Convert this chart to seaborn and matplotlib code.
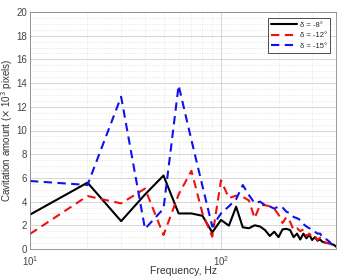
#!/usr/bin/env python3
"""
Cavitation spectrum plot
Cavitation amount vs frequency for three incidence angles (log x-axis).
"""

import numpy as np
import pandas as pd
import matplotlib
matplotlib.use("Agg")
import matplotlib.pyplot as plt
import matplotlib.ticker as mticker
import seaborn as sns

# Frequency bins (Hz)
freq = list(range(10, 410, 10))

# Cavitation amount (x 10^3 pixels)
amount_8 = [2.9, 5.6, 2.35, 4.6, 6.2, 3.0, 3.0, 2.8, 1.4, 2.45,
            1.97, 3.57, 1.83, 1.75, 2.0, 1.9, 1.6, 1.1, 1.46, 1.0,
            1.66, 1.7, 1.6, 1.0, 1.3, 0.8, 1.3, 0.9, 1.2, 0.76,
            1.0, 0.7, 0.8, 0.6, 0.55, 0.5, 0.5, 0.4, 0.35, 0.2]
amount_12 = [1.27, 4.47, 3.85, 5.1, 1.18, 4.6, 6.6, 3.0, 1.04, 5.8,
             4.3, 4.5, 4.4, 4.1, 2.6, 3.7, 3.7, 3.6, 3.4, 2.9,
             2.2, 2.7, 2.3, 1.6, 1.75, 1.5, 1.66, 1.1, 1.3, 1.0,
             1.1, 0.76, 0.96, 0.6, 0.55, 0.5, 0.45, 0.4, 0.35, 0.3]
amount_15 = [5.74, 5.4, 12.85, 1.7, 3.4, 13.8, 9.2, 5.3, 1.9, 3.0,
             3.6, 4.2, 5.4, 4.56, 3.86, 4.0, 3.7, 3.6, 3.4, 3.6,
             3.5, 3.15, 3.0, 2.7, 2.6, 2.45, 2.1, 1.9, 1.75, 1.66,
             1.46, 1.3, 1.3, 1.0, 0.9, 0.76, 0.6, 0.4, 0.35, 0.5]

labels = ["δ = -8°", "δ = -12°", "δ = -15°"]
colors = ["black", "#ee1111", "#1111ee"]

df = pd.DataFrame({
    "freq": freq * 3,
    "amount": amount_8 + amount_12 + amount_15,
    "case": [labels[0]] * len(freq) + [labels[1]] * len(freq) + [labels[2]] * len(freq),
})

sns.set_style("white")
plt.rcParams["font.family"] = ["Liberation Sans", "DejaVu Sans"]

fig = plt.figure(figsize=(3.4, 2.78), dpi=100)
ax = fig.add_axes([30 / 340, 1 - 249 / 278, 306 / 340, 237 / 278])

sns.lineplot(data=df, x="freq", y="amount", hue="case", style="case",
             palette=dict(zip(labels, colors)),
             dashes={labels[0]: "", labels[1]: (4, 2.6), labels[2]: (4, 2.6)},
             linewidth=1.5, ax=ax)

ax.set_xscale("log")
ax.set_xlim(10, 400)
ax.set_ylim(0, 20)
ax.set_yticks(np.arange(0, 21, 2))
ax.yaxis.set_minor_locator(mticker.MultipleLocator(0.5))
ax.xaxis.set_major_locator(mticker.LogLocator(base=10))
ax.xaxis.set_minor_locator(mticker.LogLocator(base=10, subs=np.arange(2, 10)))
ax.xaxis.set_minor_formatter(mticker.NullFormatter())

ax.grid(True, which="major", color="#d0d0d0", linewidth=0.6)
ax.grid(True, which="minor", color="#d8d8d8", linewidth=0.5, linestyle=":")
ax.set_axisbelow(True)

for s in ax.spines.values():
    s.set_color("#888888")
    s.set_linewidth(0.6)
ax.tick_params(which="both", direction="in", colors="#444444", labelsize=7,
               length=2, width=0.5)
ax.tick_params(which="minor", length=1)
ax.tick_params(axis="x", pad=4)
ax.tick_params(axis="y", pad=2)

ax.set_xlabel("Frequency, Hz", fontsize=7.5, color="#333333")
ax.set_ylabel("Cavitation amount ($\\times$ 10$^3$ pixels)", fontsize=7,
              color="#333333")
ax.xaxis.set_label_coords(0.5, -17 / 237)
ax.yaxis.set_label_coords(-15 / 306, 0.5)

leg = ax.legend(loc="upper right", fontsize=5.5, handlelength=3.4,
                frameon=True, fancybox=False, borderpad=0.4,
                labelspacing=0.45, handletextpad=0.3, borderaxespad=0.8)
leg.get_frame().set_edgecolor("black")
leg.get_frame().set_linewidth(0.6)
leg.set_title(None)

fig.savefig("out.png", dpi=100)
